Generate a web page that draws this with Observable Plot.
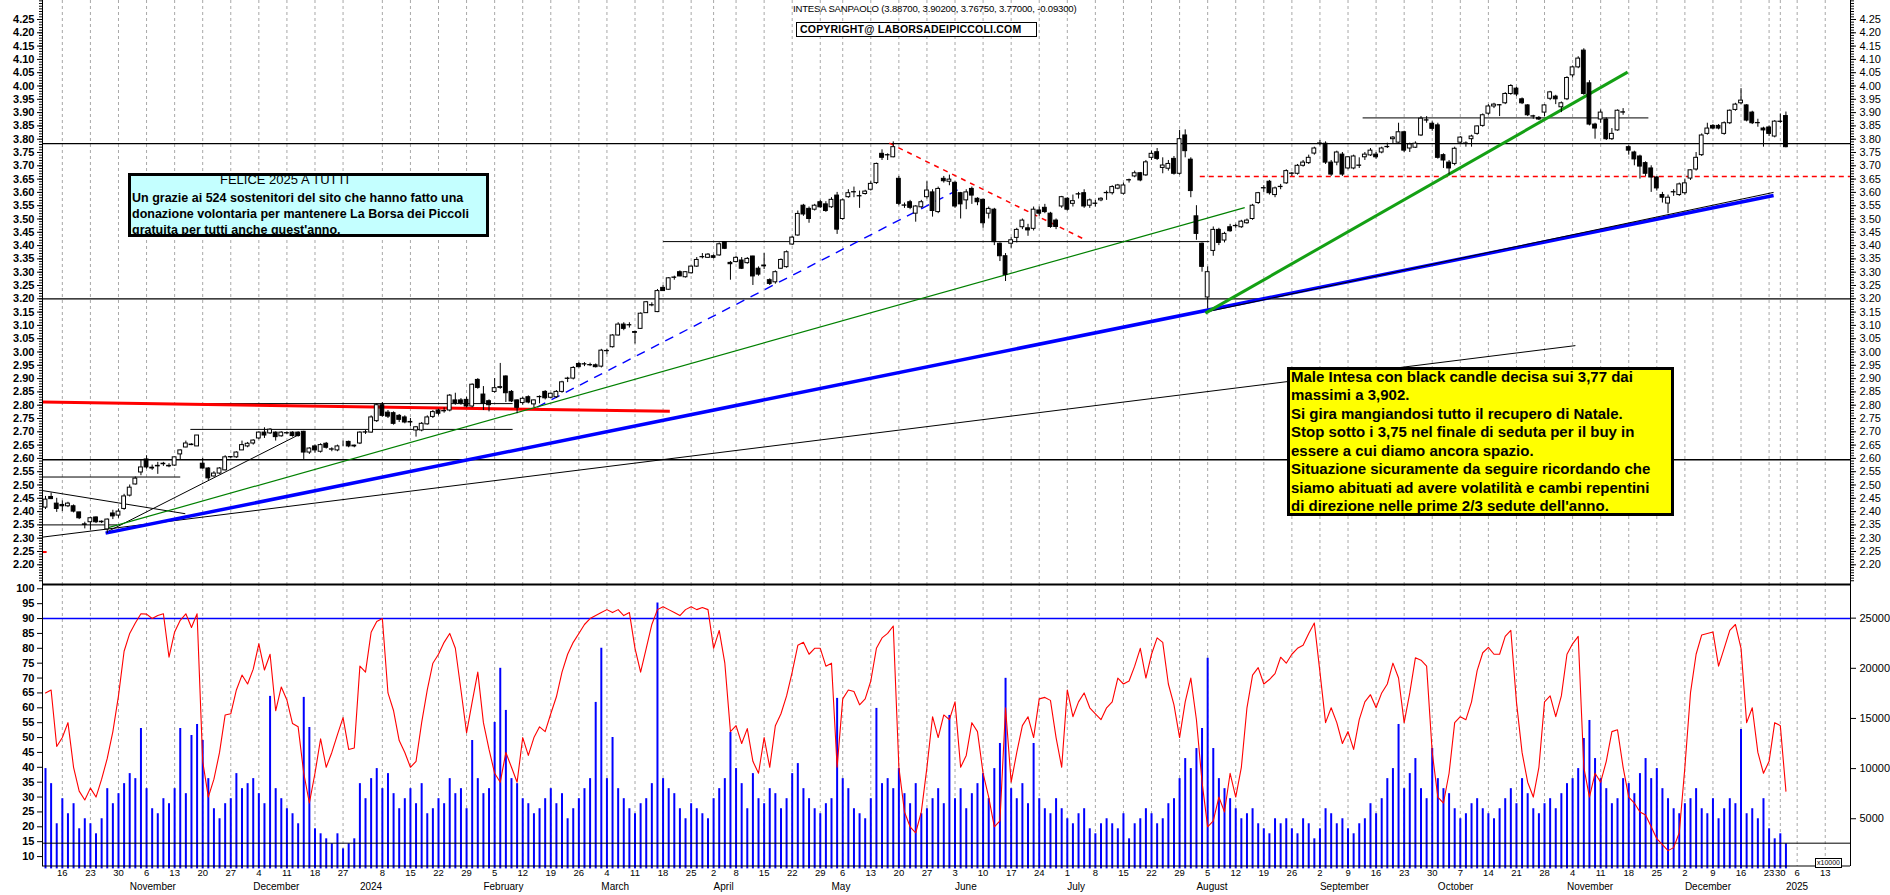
<!DOCTYPE html>
<html><head><meta charset="utf-8">
<script src="https://cdn.jsdelivr.net/npm/d3@7"></script>
<script src="https://cdn.jsdelivr.net/npm/@observablehq/plot@0.6"></script>
<style>
body{margin:0;background:#fff;font-family:"Liberation Sans",Arial,sans-serif}
#wrap{position:relative;width:1890px;height:895px;overflow:hidden;background:#fff}
#wrap svg{position:absolute;left:0}
.abs{position:absolute;white-space:pre;color:#000}
.box{position:absolute;box-sizing:border-box}
</style></head><body><div id="wrap"></div>
<script>
// ---------------- DATA ----------------
const open = [
2.415,2.455,2.430,2.425,2.420,2.420,2.397,2.352,2.360,2.378,
2.362,2.333,2.393,2.385,2.410,2.460,2.502,2.547,2.596,2.565,
2.572,2.580,2.572,2.573,2.615,2.641,2.652,2.645,2.580,2.562,
2.532,2.543,2.555,2.605,2.604,2.630,2.645,2.656,2.675,2.697,
2.694,2.697,2.683,2.695,2.697,2.697,2.700,2.622,2.645,2.625,
2.655,2.634,2.630,2.660,2.662,2.648,2.656,2.698,2.697,2.740,
2.800,2.772,2.770,2.760,2.754,2.737,2.705,2.705,2.728,2.756,
2.780,2.778,2.780,2.818,2.818,2.820,2.795,2.895,2.840,2.815,
2.850,2.865,2.908,2.850,2.818,2.808,2.830,2.803,2.831,2.850,
2.828,2.830,2.850,2.900,2.900,2.955,2.954,2.951,2.950,2.945,
3.004,3.018,3.062,3.103,3.101,3.075,3.087,3.146,3.176,3.150,
3.241,3.234,3.280,3.300,3.281,3.296,3.321,3.357,3.354,3.360,
3.363,3.413,3.335,3.338,3.344,3.334,3.359,3.313,3.322,3.270,
3.262,3.313,3.319,3.404,3.438,3.550,3.538,3.535,3.563,3.555,
3.544,3.588,3.500,3.582,3.601,3.586,3.594,3.610,3.635,3.745,
3.740,3.732,3.651,3.551,3.563,3.520,3.544,3.582,3.600,3.526,
3.651,3.640,3.636,3.597,3.570,3.613,3.576,3.572,3.520,3.535,
3.407,3.360,3.407,3.429,3.469,3.465,3.463,3.532,3.542,3.520,
3.494,3.547,3.576,3.557,3.593,3.597,3.550,3.558,3.570,3.598,
3.597,3.614,3.595,3.646,3.660,3.672,3.664,3.730,3.751,3.692,
3.689,3.726,3.670,3.814,3.723,3.510,3.407,3.205,3.380,3.459,
3.419,3.469,3.474,3.469,3.484,3.500,3.560,3.616,3.640,3.590,
3.621,3.634,3.671,3.670,3.700,3.710,3.746,3.784,3.783,3.712,
3.712,3.742,3.690,3.690,3.701,3.732,3.739,3.742,3.750,3.771,
3.800,3.787,3.826,3.765,3.768,3.814,3.871,3.858,3.852,3.740,
3.712,3.707,3.787,3.784,3.800,3.820,3.850,3.896,3.923,3.928,
3.935,3.970,3.990,3.950,3.927,3.886,3.880,3.900,3.952,3.960,
3.920,3.950,4.040,4.070,4.133,4.010,3.855,3.874,3.874,3.800,
3.833,3.901,3.770,3.750,3.735,3.710,3.690,3.656,3.590,3.558,
3.601,3.590,3.597,3.652,3.686,3.740,3.820,3.850,3.850,3.820,
3.860,3.910,3.935,3.927,3.900,3.861,3.840,3.844,3.810,3.866,
3.887];
const high = [
2.457,2.470,2.450,2.440,2.435,2.425,2.397,2.360,2.378,2.380,
2.365,2.372,2.405,2.410,2.465,2.500,2.530,2.595,2.610,2.575,
2.585,2.585,2.580,2.605,2.632,2.665,2.655,2.686,2.600,2.565,
2.550,2.565,2.610,2.607,2.625,2.665,2.660,2.670,2.700,2.715,
2.712,2.700,2.700,2.700,2.700,2.700,2.702,2.640,2.650,2.655,
2.660,2.640,2.650,2.665,2.665,2.650,2.700,2.705,2.760,2.806,
2.810,2.780,2.775,2.765,2.760,2.750,2.720,2.735,2.760,2.780,
2.785,2.790,2.840,2.845,2.825,2.830,2.880,2.900,2.870,2.820,
2.900,2.957,2.910,2.855,2.820,2.830,2.835,2.820,2.835,2.855,
2.845,2.855,2.890,2.905,2.945,2.960,2.960,2.958,2.955,3.010,
3.010,3.065,3.110,3.110,3.110,3.078,3.147,3.190,3.185,3.235,
3.250,3.280,3.285,3.305,3.302,3.323,3.355,3.370,3.370,3.365,
3.410,3.415,3.340,3.360,3.355,3.355,3.360,3.320,3.370,3.275,
3.305,3.350,3.380,3.435,3.530,3.555,3.545,3.555,3.570,3.565,
3.580,3.600,3.575,3.610,3.620,3.605,3.608,3.640,3.710,3.760,
3.745,3.790,3.660,3.560,3.570,3.550,3.570,3.640,3.610,3.620,
3.660,3.665,3.640,3.600,3.610,3.620,3.580,3.575,3.545,3.540,
3.410,3.370,3.430,3.465,3.500,3.480,3.545,3.545,3.555,3.525,
3.500,3.585,3.580,3.590,3.600,3.610,3.575,3.570,3.580,3.605,
3.625,3.630,3.635,3.650,3.680,3.675,3.720,3.755,3.765,3.730,
3.720,3.735,3.833,3.835,3.730,3.550,3.410,3.320,3.470,3.465,
3.450,3.480,3.480,3.495,3.500,3.555,3.600,3.625,3.645,3.620,
3.630,3.685,3.675,3.705,3.720,3.740,3.770,3.795,3.790,3.720,
3.755,3.750,3.735,3.740,3.730,3.750,3.765,3.750,3.770,3.785,
3.810,3.860,3.830,3.785,3.790,3.885,3.885,3.865,3.860,3.745,
3.720,3.770,3.810,3.790,3.815,3.850,3.895,3.930,3.935,3.930,
3.975,4.005,3.995,3.955,3.930,3.890,3.885,3.930,3.980,3.965,
3.940,4.035,4.075,4.110,4.140,4.020,3.860,3.910,3.880,3.840,
3.910,3.915,3.775,3.755,3.740,3.715,3.700,3.660,3.600,3.590,
3.610,3.635,3.650,3.685,3.750,3.820,3.860,3.855,3.855,3.865,
3.910,3.935,3.990,3.930,3.905,3.875,3.845,3.850,3.870,3.895,
3.902];
const low = [
2.408,2.445,2.397,2.400,2.415,2.395,2.370,2.335,2.330,2.355,
2.355,2.318,2.370,2.375,2.405,2.455,2.500,2.535,2.560,2.555,
2.540,2.570,2.565,2.570,2.595,2.640,2.648,2.645,2.560,2.517,
2.530,2.540,2.553,2.600,2.600,2.630,2.640,2.650,2.670,2.675,
2.690,2.665,2.680,2.690,2.680,2.680,2.596,2.615,2.620,2.620,
2.635,2.625,2.625,2.645,2.640,2.640,2.652,2.690,2.695,2.735,
2.755,2.750,2.725,2.735,2.730,2.720,2.680,2.700,2.725,2.750,
2.760,2.770,2.775,2.800,2.800,2.790,2.790,2.860,2.780,2.775,
2.845,2.860,2.810,2.810,2.768,2.800,2.805,2.790,2.805,2.820,
2.825,2.825,2.845,2.885,2.895,2.940,2.945,2.945,2.940,2.940,
2.990,3.015,3.060,3.080,3.090,3.030,3.085,3.145,3.170,3.148,
3.228,3.232,3.270,3.283,3.278,3.293,3.318,3.350,3.352,3.350,
3.360,3.385,3.270,3.335,3.310,3.330,3.250,3.285,3.310,3.250,
3.255,3.310,3.315,3.400,3.435,3.510,3.484,3.530,3.540,3.525,
3.540,3.442,3.495,3.578,3.580,3.540,3.590,3.605,3.630,3.720,
3.720,3.730,3.550,3.540,3.535,3.488,3.540,3.575,3.507,3.520,
3.635,3.625,3.540,3.500,3.535,3.555,3.550,3.465,3.500,3.400,
3.340,3.265,3.390,3.410,3.460,3.435,3.455,3.510,3.520,3.465,
3.460,3.540,3.530,3.545,3.575,3.540,3.540,3.545,3.565,3.570,
3.590,3.610,3.590,3.635,3.655,3.640,3.660,3.720,3.720,3.670,
3.680,3.665,3.665,3.730,3.580,3.420,3.300,3.162,3.360,3.400,
3.410,3.450,3.465,3.465,3.480,3.495,3.555,3.600,3.590,3.580,
3.610,3.630,3.660,3.665,3.695,3.705,3.740,3.775,3.705,3.660,
3.700,3.660,3.685,3.685,3.690,3.720,3.735,3.725,3.745,3.765,
3.780,3.785,3.750,3.750,3.765,3.810,3.860,3.830,3.725,3.690,
3.665,3.700,3.780,3.770,3.770,3.815,3.845,3.890,3.915,3.885,
3.930,3.965,3.960,3.930,3.885,3.875,3.870,3.885,3.945,3.930,
3.900,3.945,4.030,4.065,3.965,3.850,3.800,3.860,3.795,3.795,
3.830,3.890,3.740,3.700,3.650,3.660,3.600,3.605,3.560,3.520,
3.585,3.585,3.590,3.645,3.680,3.735,3.815,3.835,3.835,3.815,
3.855,3.905,3.930,3.865,3.855,3.845,3.770,3.810,3.805,3.860,
3.7675];
const close = [
2.445,2.447,2.410,2.420,2.430,2.400,2.375,2.350,2.375,2.360,
2.360,2.370,2.382,2.400,2.457,2.490,2.524,2.566,2.566,2.562,
2.570,2.578,2.570,2.604,2.630,2.656,2.650,2.686,2.562,2.525,
2.543,2.562,2.604,2.604,2.622,2.650,2.655,2.667,2.697,2.686,
2.708,2.680,2.697,2.694,2.684,2.684,2.622,2.637,2.630,2.650,
2.640,2.633,2.645,2.660,2.645,2.645,2.697,2.697,2.754,2.800,
2.760,2.757,2.730,2.745,2.735,2.735,2.717,2.730,2.754,2.774,
2.768,2.777,2.836,2.808,2.808,2.795,2.877,2.865,2.805,2.800,
2.864,2.868,2.845,2.814,2.790,2.824,2.810,2.818,2.830,2.826,
2.843,2.850,2.886,2.899,2.940,2.943,2.953,2.950,2.943,3.005,
3.003,3.062,3.103,3.087,3.100,3.072,3.144,3.187,3.175,3.229,
3.229,3.277,3.279,3.284,3.300,3.321,3.346,3.356,3.366,3.354,
3.405,3.388,3.330,3.354,3.313,3.350,3.284,3.291,3.325,3.256,
3.300,3.346,3.375,3.430,3.519,3.517,3.500,3.550,3.544,3.530,
3.572,3.460,3.570,3.597,3.600,3.585,3.603,3.632,3.707,3.730,
3.739,3.770,3.557,3.550,3.542,3.547,3.563,3.607,3.530,3.613,
3.642,3.648,3.547,3.555,3.600,3.588,3.563,3.484,3.538,3.413,
3.360,3.290,3.420,3.459,3.494,3.457,3.535,3.520,3.526,3.470,
3.470,3.582,3.535,3.567,3.592,3.547,3.570,3.557,3.576,3.597,
3.620,3.626,3.626,3.645,3.672,3.645,3.713,3.745,3.726,3.701,
3.707,3.670,3.800,3.755,3.605,3.444,3.320,3.300,3.459,3.410,
3.444,3.454,3.473,3.490,3.494,3.550,3.597,3.615,3.597,3.615,
3.620,3.680,3.670,3.700,3.712,3.730,3.765,3.783,3.712,3.667,
3.750,3.667,3.732,3.735,3.700,3.742,3.757,3.732,3.765,3.770,
3.806,3.826,3.757,3.780,3.783,3.877,3.870,3.839,3.730,3.720,
3.690,3.764,3.806,3.783,3.810,3.848,3.890,3.923,3.930,3.927,
3.970,4.000,3.968,3.935,3.890,3.885,3.874,3.927,3.976,3.950,
3.935,4.030,4.070,4.103,3.970,3.855,3.840,3.900,3.800,3.820,
3.907,3.900,3.757,3.724,3.697,3.670,3.656,3.615,3.580,3.580,
3.600,3.630,3.634,3.683,3.730,3.814,3.840,3.840,3.840,3.860,
3.907,3.930,3.945,3.870,3.860,3.860,3.833,3.820,3.866,3.865,
3.770];
// oscillator (left scale 0-100)
const osc = [
65,66,47,50,55,40,32,29,33,30,
36,43,52,64,79,85,88.5,91.6,91.5,90,
91,91.6,77,85.5,89.4,91.6,87,91.6,42,30,
36,45,57.6,58,66,71,68,73,81.5,72.7,
78,59,67,62.6,54.7,53.6,38,28,38,49.6,
40,45,51,56.7,46,46.5,74,72,85.4,89,
90,65,59,49,45,40,42,55,66,75,
78,82,85,80,66,51.6,62,72,55,46,
38,35,45,40,35,50,44,50,53.6,52,
58,63.7,72,78,82,85,88,90,91,92,
93,92,93,91,92,80,72,80,88,93,
94,93,92,91,93,94,93,93.7,93,80,
86,75,52,54,48,53,42,38,50,40,
54,58,64,72,81,82,78,80,80,74,
75,40,63,66,65.5,61,63,69,80,83.5,
85,87.5,40,25,20,18,25,40,57,50,
57.6,56,62,40,44,55,52,38,30,20,
22,60,35,45,54,57,50,63,63.5,62.5,
50,40,66,57,62,65,60,58,56,60,
62,70,68,69,74,80,70,78,83.5,82,
68,61,50,62,70,56,35,20,22,30,
25,38,30,40,60,71,73.5,68,69.5,71.5,
77,75,78,80,81,85,88.5,72,55,60,
55,48,52,46,56,62,64.4,60,65,68,
75,70,55,65,76.8,76,74,45,30,28,
38,55,57,56,62,72.5,78.5,80.3,78,78,
84,86,62,45,35,30,40,62,64,57,
64,78,81.5,84,40,30,38,35,42,52,
52.6,40,30,28,25,24,20,16,14,12,
13,18,40,65,78,84.5,85,85.5,74,80,
86,88,80,55,60,45,38,42,55,54,
32];
// volume (right scale)
const vol = [
10000,8500,4500,7000,5500,6500,4000,5000,4500,3500,
5000,8000,6500,7500,8500,9500,9000,14000,8000,6000,
5500,7000,6500,8000,14000,7500,13300,14400,12800,9000,
6000,5000,6500,7000,9500,8000,8500,9000,7500,6500,
17200,8000,7000,6000,5500,4500,17100,14100,4000,3500,
3000,2500,3500,2000,2500,3000,8500,7000,9000,10000,
8000,9500,7500,6000,7000,8000,6500,8500,5500,6000,
7000,6500,9000,7500,8000,6000,12800,9000,7500,8000,
14600,20000,15800,9000,8500,7000,6500,5500,6000,7000,
8000,6500,7500,5000,6000,7000,8000,9000,16600,22000,
9000,13100,8000,7000,6000,5500,6500,7000,8500,26500,
9000,8000,7500,6000,5000,6500,6000,5500,5000,7000,
8000,9000,13600,10000,8500,6000,9500,7000,6500,8000,
7500,6000,7000,9500,10500,8000,7000,6000,5500,6500,
7000,17000,9000,8000,6000,5500,5000,7000,16000,8500,
9000,8000,10000,7500,6500,8500,5500,6000,7000,8000,
6500,15300,7000,8000,6000,7500,8500,9500,7000,10000,
12500,19000,8000,7000,8500,6500,12500,7000,6000,5500,
7000,6000,5000,4500,5500,6000,4000,3500,4500,5000,
4500,4000,5500,3000,4500,5000,6000,5500,4500,5000,
6500,7000,9000,11000,10000,12000,14000,21000,12000,9000,
8000,7000,6000,5000,5500,6000,4500,4000,3500,5000,
4500,5000,4000,3500,5000,4500,3000,4000,6000,5500,
4500,5000,4000,3500,4500,5000,6500,5500,7000,9000,
10000,14400,8000,9500,11000,8000,7000,12000,9000,8000,
7500,6000,5000,5500,6500,7000,6000,5500,5000,6000,
7000,8000,6500,9000,7500,6000,5500,6500,7000,6000,
7500,8500,9000,10000,13000,14800,11000,9000,8000,6500,
7000,9000,8500,7500,9500,11000,9000,10000,8000,7000,
6000,5500,6500,7000,8000,6000,5500,7000,5000,6000,
7000,6500,13900,5500,6000,5000,7000,4000,3000,3500,
2500];
const priceTicks = d3.range(2.20, 4.2501, 0.05);
const oscTicks = d3.range(10, 100.1, 5);
const volTicks = [5000, 10000, 15000, 20000, 25000];
const monthNames = ["January","February","March","April","May","June","July","August","September","October","November","December"];
// Borsa Italiana closing days in the period (the last session drawn is 2 Jan 2025)
const holidays = new Set(["2023-12-25","2023-12-26","2024-01-01","2024-03-29","2024-04-01","2024-05-01","2024-12-24","2024-12-25","2024-12-26","2024-12-31","2025-01-01"]);
// annotation lines (index units, price units)
const blackThin = [
  {x1:-0.534,y1:2.304,x2:272.5,y2:3.024},
  {x1:-0.534,y1:2.479,x2:24.9,y2:2.392},
  {x1:10.9,y1:2.323,x2:45.4,y2:2.692},
  {x1:-0.534,y1:2.35,x2:12.8,y2:2.35},
  {x1:-0.534,y1:2.53,x2:24,y2:2.53},
  {x1:25.8,y1:2.709,x2:83.2,y2:2.709},
  {x1:25.8,y1:2.806,x2:83.2,y2:2.806},
  {x1:110,y1:3.415,x2:207.3,y2:3.415},
  {x1:234.6,y1:3.88,x2:285.5,y2:3.88}
];
const blackOverBlue = [{x1:206.6,y1:3.15,x2:307.8,y2:3.60}];
const redThick = [{x1:-0.534,y1:2.812,x2:111.2,y2:2.777}];
const redTiny = [{x1:-0.534,y1:2.248,x2:0.2,y2:2.248}];
const redDashed = [{x1:150.3,y1:3.785,x2:185.4,y2:3.42}];
const redDashedH = [{x1:205.6,y1:3.66,x2:321.5,y2:3.66}];
const blueDashed = [{x1:87.6,y1:2.793,x2:163,y2:3.615}];
const greenThin = [{x1:10.7,y1:2.337,x2:213.6,y2:3.543}];
const blueThick = [{x1:10.7,y1:2.319,x2:307.8,y2:3.588}];
const greenThick = [{x1:206.6,y1:3.146,x2:281.8,y2:4.052}];
const fullRules = [3.783, 3.20, 2.595];

// ---------------- CALENDAR ----------------
const fmt = d3.utcFormat("%Y-%m-%d");
const days = [];
for (let d = new Date(Date.UTC(2023,9,11)); days.length < 322; d = d3.utcDay.offset(d,1)) {
  const wd = d.getUTCDay();
  if (wd===0 || wd===6 || holidays.has(fmt(d))) continue;
  days.push(new Date(d));
}
const weekTicks = [], monthTicks = [];
for (let i = 1; i < days.length; i++) {
  const a = days[i-1], b = days[i];
  const isYearStart = a.getUTCFullYear() !== b.getUTCFullYear();
  if (+d3.utcMonday.floor(a) !== +d3.utcMonday.floor(b) && !isYearStart) {
    weekTicks.push({i, label: String(b.getUTCDate())});
  }
  if (a.getUTCMonth() !== b.getUTCMonth()) {
    monthTicks.push({i, label: b.getUTCMonth()===0 ? String(b.getUTCFullYear()) : monthNames[b.getUTCMonth()]});
  }
}
const candles = open.map((o,i) => ({i, o, h: high[i], l: low[i], c: close[i]}));
const oscData = osc.map((v,i) => ({i, v}));
const volData = vol.map((v,i) => ({i, v}));

// ---------------- LAYOUT ----------------
const W = 1890, ML = 42, MR = 40;
const xDomain = [-0.534, 321.5];
const FONT = "'Liberation Sans', Arial, sans-serif";
const wrap = document.getElementById("wrap");
function place(svg, top) {
  svg.style.top = top + "px";
  svg.style.background = "transparent";
  svg.style.maxWidth = "none";
  svg.style.overflow = "visible";
  wrap.appendChild(svg);
}
const grid = Plot.ruleX(weekTicks, {x: "i", stroke: "#a8a8a8", strokeWidth: 1, strokeDasharray: "3,3"});
const base = {width: W, marginLeft: ML, marginRight: MR, marginTop: 0, marginBottom: 0,
  x: {domain: xDomain, axis: null}, style: {fontFamily: FONT, fontSize: "11px", color: "#000", background: "transparent"}};

const link = (data, stroke, w, dash) => Plot.link(data, {x1:"x1", y1:"y1", x2:"x2", y2:"y2", stroke, strokeWidth: w, strokeDasharray: dash});

// Price panel
place(Plot.plot({...base, height: 583,
  y: {domain: [2.1297, 4.3214], axis: null, label: null},
  marks: [
    grid,
    Plot.ruleY(fullRules, {stroke: "black", strokeWidth: 1.3}),
    link(blackThin, "black", 1),
    link(redThick, "#ff0000", 3),
    link(redTiny, "#ff0000", 2),
    link(redDashed, "#ff0000", 1.5, "5,5"),
    link(redDashedH, "#ff0000", 1.4, "5,4"),
    link(blueDashed, "#0000ff", 1.4, "9,7"),
    link(greenThin, "#008000", 1.2),
    link(blueThick, "#0000ff", 3.5),
    link(blackOverBlue, "black", 1),
    link(greenThick, "#14a014", 3),
    Plot.ruleX(candles, {x: "i", y1: "l", y2: "h", stroke: "black", strokeWidth: 1}),
    Plot.rect(candles, {x1: d => d.i - 0.34, x2: d => d.i + 0.34, y1: "o", y2: "c",
      fill: d => d.c >= d.o ? "white" : "black", stroke: "black", strokeWidth: 1}),
    Plot.axisY(d3.range(2.14, 4.3201, 0.01), {anchor: "left", tickSize: 3, tickFormat: () => "", label: null}),
    Plot.axisY(d3.range(2.14, 4.3201, 0.01), {anchor: "right", tickSize: 3, tickFormat: () => "", label: null}),
    Plot.axisY(priceTicks, {anchor: "left", tickSize: 5, tickPadding: 3, tickFormat: d3.format(".2f"), fontSize: 11, fontWeight: "bold", label: null}),
    Plot.axisY(priceTicks, {anchor: "right", tickSize: 5, tickPadding: 4, tickFormat: d3.format(".2f"), fontSize: 11, label: null}),
    Plot.ruleX(xDomain, {stroke: "black", strokeWidth: 1})
  ]}), 0);

// Volume (right scale)
place(Plot.plot({...base, height: 283,
  y: {domain: [239, 28455], axis: null, label: null},
  marks: [
    grid,
    Plot.ruleX(volData, {x: "i", y1: 0, y2: "v", stroke: "#0000ff", strokeWidth: 2}),
    Plot.axisY(volTicks, {anchor: "right", tickSize: 5, tickPadding: 4, fontSize: 11, tickFormat: d3.format("d"), label: null})
  ]}), 583);

// Oscillator (left scale)
place(Plot.plot({...base, height: 283,
  y: {domain: [6.66, 101.78], axis: null, label: null},
  marks: [
    Plot.ruleY([90], {stroke: "#0000ff", strokeWidth: 1.5}),
    Plot.ruleY([14.5], {stroke: "black", strokeWidth: 1}),
    Plot.line(oscData, {x: "i", y: "v", stroke: "#ff0000", strokeWidth: 1.1}),
    Plot.ruleY([101.78], {stroke: "black", strokeWidth: 2, dy: 1}),
    Plot.ruleY([6.66], {stroke: "black", strokeWidth: 1, dy: -0.5}),
    Plot.axisY(oscTicks, {anchor: "left", tickSize: 5, tickPadding: 3, fontSize: 11, fontWeight: "bold", label: null}),
    Plot.ruleX(xDomain, {stroke: "black", strokeWidth: 1})
  ]}), 583);

// Date axis
place(Plot.plot({...base, height: 29,
  marks: [
    Plot.text(weekTicks, {x: "i", text: "label", frameAnchor: "top", lineAnchor: "top", dy: 3, fontSize: 9.5}),
    Plot.text(monthTicks, {x: "i", text: "label", frameAnchor: "top", lineAnchor: "top", dy: 16, fontSize: 10, textAnchor: "start"})
  ]}), 866);

// ---------------- TEXT OVERLAYS ----------------
function addText(txt, left, top, css) {
  const el = document.createElement("div");
  el.className = "abs"; el.textContent = txt;
  el.style.left = left + "px"; el.style.top = top + "px";
  Object.assign(el.style, css || {});
  wrap.appendChild(el); return el;
}
function addBox(left, top, w, h, css) {
  const el = document.createElement("div");
  el.className = "box";
  Object.assign(el.style, {left: left+"px", top: top+"px", width: w+"px", height: h+"px"}, css);
  wrap.appendChild(el); return el;
}
addText("INTESA SANPAOLO (3.88700, 3.90200, 3.76750, 3.77000, -0.09300)", 793, 3, {fontSize: "9.6px", letterSpacing: "-0.2px"});
addBox(796, 22, 241, 15, {border: "1.5px solid #000", background: "#fff"});
addText("COPYRIGHT@ LABORSADEIPICCOLI.COM", 800, 23, {fontSize: "10.5px", fontWeight: "bold", letterSpacing: "0.2px"});

addBox(128, 173, 361, 64, {border: "3px solid #000", background: "#c4ffff"});
addText("FELICE 2025 A TUTTI", 220, 172, {fontSize: "13px", lineHeight: "16px"});
const cyanLines = ["Un grazie ai 524 sostenitori del sito che hanno fatto una",
  "donazione volontaria per mantenere La Borsa dei Piccoli",
  "gratuita per tutti anche quest'anno."];
cyanLines.forEach((t,k) => addText(t, 132, 190 + k*16.2, {fontSize: "12.5px", fontWeight: "bold", lineHeight: "16px"}));

addBox(1287, 367, 387, 149, {border: "3px solid #000", background: "#ffff00"});
const yellowLines = ["Male Intesa con black candle decisa sui 3,77 dai",
  "massimi a 3,902.",
  "Si gira mangiandosi tutto il recupero di Natale.",
  "Stop sotto i 3,75 nel finale di seduta per il buy in",
  "essere a cui diamo ancora spazio.",
  "Situazione sicuramente da seguire ricordando che",
  "siamo abituati ad avere volatilità e cambi repentini",
  "di direzione nelle prime 2/3 sedute dell'anno."];
yellowLines.forEach((t,k) => addText(t, 1291, 367.5 + k*18.5, {fontSize: "15px", fontWeight: "bold", lineHeight: "18.5px"}));
addText("x10000", 1815, 858, {fontSize: "7px", border: "1px solid #000", padding: "0 1px", lineHeight: "8px", background: "#fff"});
</script></body></html>
